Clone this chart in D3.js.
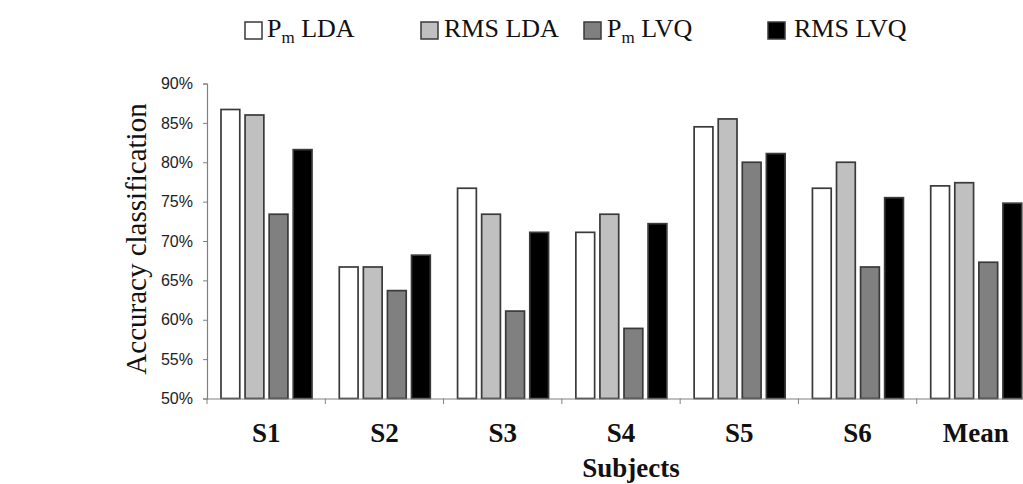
<!DOCTYPE html>
<html><head><meta charset="utf-8">
<script src="https://cdn.jsdelivr.net/npm/d3@7"></script>
<style>body{margin:0;background:#fff;overflow:hidden}svg{display:block}</style>
</head><body>
<script>
const categories = ["S1","S2","S3","S4","S5","S6","Mean"];
const seriesNames = ["Pm LDA","RMS LDA","Pm LVQ","RMS LVQ"];
const pmLDA  = [86.7, 66.7, 76.7, 71.1, 84.5, 76.7, 77.0];
const rmsLDA = [86.0, 66.7, 73.4, 73.4, 85.5, 80.0, 77.4];
const pmLVQ  = [73.4, 63.7, 61.1, 58.9, 80.0, 66.7, 67.3];
const rmsLVQ = [81.6, 68.2, 71.1, 72.2, 81.1, 75.5, 74.8];
const yTicks = [50,55,60,65,70,75,80,85,90];
const colors = ["#ffffff","#c0c0c0","#808080","#000000"];
const seriesValues = [pmLDA, rmsLDA, pmLVQ, rmsLVQ];

const W = 1023, H = 484;
const serif = "'Liberation Serif', 'Times New Roman', serif";
const svg = d3.select("body").append("svg").attr("width", W).attr("height", H);

const x0 = d3.scaleBand().domain(categories).range([207, 1035]).padding(0);
const x1 = d3.scaleBand().domain(d3.range(4)).range([14, 105]).paddingInner(0.22);
const y = d3.scaleLinear().domain([50, 90]).range([398.5, 83.5]);

const g = svg.append("g");
categories.forEach((c, i) => {
  seriesValues.forEach((vals, s) => {
    g.append("rect")
      .attr("x", x0(c) + x1(s))
      .attr("y", y(vals[i]))
      .attr("width", x1.bandwidth())
      .attr("height", y(50) - y(vals[i]))
      .attr("fill", colors[s])
      .attr("stroke", "#3a3a3a")
      .attr("stroke-width", 1.7);
  });
});

const yAxis = svg.append("g").attr("transform", "translate(207,0)")
  .call(d3.axisLeft(y).tickValues(yTicks).tickSize(4).tickPadding(10).tickFormat(d => d + "%"));
yAxis.select(".domain").attr("stroke", "#808080").attr("stroke-width", 1.2);
yAxis.selectAll(".tick line").attr("stroke", "#808080");
yAxis.selectAll(".tick text").attr("font-family", "'Liberation Sans', Arial, sans-serif")
  .attr("font-size", 16).attr("fill", "#222");

const xAxis = svg.append("g").attr("transform", "translate(0,398.5)")
  .call(d3.axisBottom(x0).tickSize(0).tickPadding(0).tickFormat(""));
xAxis.select(".domain").attr("stroke", "#808080").attr("stroke-width", 1.2);
svg.append("g").selectAll("line").data(categories).join("line")
  .attr("x1", d => x0(d)).attr("x2", d => x0(d))
  .attr("y1", 398.5).attr("y2", 404)
  .attr("stroke", "#808080");
svg.append("g").selectAll("text").data(categories).join("text")
  .attr("x", d => x0(d) + x0.bandwidth() / 2)
  .attr("y", 442)
  .attr("text-anchor", "middle")
  .attr("font-family", serif)
  .attr("font-weight", "bold").attr("font-size", 27).attr("fill", "#111")
  .text(d => d);

svg.append("text").attr("x", 631).attr("y", 477).attr("text-anchor", "middle")
  .attr("font-family", serif)
  .attr("font-weight", "bold").attr("font-size", 27).attr("fill", "#111")
  .text("Subjects");
svg.append("text").attr("transform", "translate(146,239) rotate(-90)")
  .attr("text-anchor", "middle")
  .attr("font-family", serif)
  .attr("font-size", 29).attr("fill", "#111")
  .text("Accuracy classification");

const boxX = [245, 421, 584, 768];
const textX = [267, 444, 607, 794];
const lg = svg.append("g").attr("font-family", serif)
  .attr("font-size", 26).attr("fill", "#111");
seriesNames.forEach((name, s) => {
  lg.append("rect").attr("x", boxX[s]).attr("y", 22).attr("width", 17).attr("height", 17)
    .attr("fill", colors[s]).attr("stroke", "#3a3a3a").attr("stroke-width", 1.5);
  const t = lg.append("text").attr("x", textX[s]).attr("y", 37);
  if (name.startsWith("Pm")) {
    t.append("tspan").text("P");
    t.append("tspan").attr("font-size", 17).attr("dy", 6).text("m");
    t.append("tspan").attr("dy", -6).text(" " + name.slice(3));
  } else {
    t.text(name);
  }
});
</script>
</body></html>
